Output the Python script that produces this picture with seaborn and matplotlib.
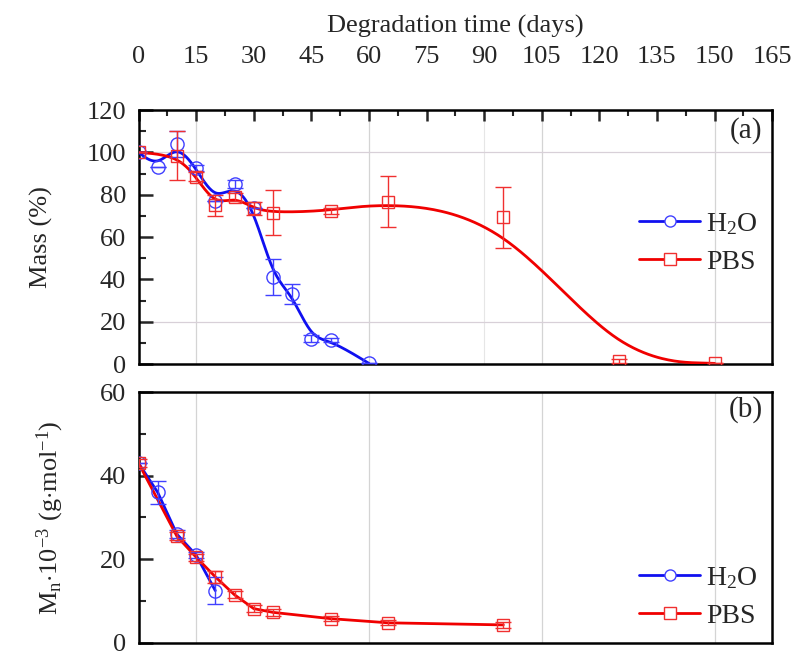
import numpy as np
import matplotlib
matplotlib.use("Agg")
import matplotlib.pyplot as plt
import seaborn as sns
from matplotlib.lines import Line2D
from matplotlib.ticker import MultipleLocator

# panel (a): mass remaining (%)
days_h2o_a = [0, 5, 10, 15, 20, 25, 30, 35, 40, 45, 50, 60]
mass_h2o = [100, 93, 104, 92.5, 77, 85, 73.5, 41, 33, 12, 11.3, 0.3]
mass_h2o_err = [0, 0, 6, 1.5, 0, 2, 0, 8.5, 4.7, 1.5, 1, 0]

days_pbs_a = [0, 10, 15, 20, 25, 30, 35, 50, 65, 95, 125, 150]
mass_pbs = [100, 98.5, 88.5, 75, 79, 73.5, 71.5, 72.3, 76.7, 69.3, 1.6, 0.3]
mass_pbs_err = [0, 11.8, 2, 5, 2, 3, 10.6, 1.5, 12, 14.5, 1, 0]

# panel (b): Mn * 10^-3 (g/mol)
days_h2o_b = [0, 5, 10, 15, 20]
mn_h2o = [43, 36, 26, 21, 12.5]
mn_h2o_err = [0, 2.7, 1, 0.8, 3.2]

days_pbs_b = [0, 10, 15, 20, 25, 30, 35, 50, 65, 95]
mn_pbs = [43, 25.5, 20.5, 15.8, 11.5, 8.2, 7.3, 5.8, 4.8, 4.3]
mn_pbs_err = [1, 1, 0.8, 1.5, 0.8, 0.8, 0.8, 0.6, 0.6, 0.8]

BLUE = "#1010f0"
RED = "#f00000"


def bspline(x, y, n=40):
    # Origin-style B-spline connection: data points act as control points
    P = np.column_stack([x, y]).astype(float)
    P = np.vstack([P[:1], P[:1], P, P[-1:], P[-1:]])
    t = np.linspace(0, 1, n, endpoint=False)[:, None]
    b0 = (1 - t) ** 3 / 6
    b1 = (3 * t ** 3 - 6 * t ** 2 + 4) / 6
    b2 = (-3 * t ** 3 + 3 * t ** 2 + 3 * t + 1) / 6
    b3 = t ** 3 / 6
    segs = [b0 * P[i] + b1 * P[i + 1] + b2 * P[i + 2] + b3 * P[i + 3]
            for i in range(len(P) - 3)]
    segs.append(P[-1:])
    return np.vstack(segs)


sns.set_style("white")
plt.rcParams["font.family"] = ["Liberation Serif", "DejaVu Serif"]
plt.rcParams["mathtext.fontset"] = "custom"
plt.rcParams["mathtext.rm"] = "Liberation Serif"
plt.rcParams["mathtext.it"] = "Liberation Serif"

FS = 19

fig = plt.figure(figsize=(7.96, 6.56), dpi=100)
L, R = 0.174, 0.970
ax1 = fig.add_axes([L, 0.4451, R - L, 0.8323 - 0.4451])
ax2 = fig.add_axes([L, 0.020, R - L, 0.4024 - 0.020])

grid_c = "#d4d4d4"
for ax in (ax1, ax2):
    for gx in (15, 60, 105, 150):
        ax.axvline(gx, color=grid_c, lw=0.9, zorder=0)
ax1.axvline(90, color="#e6e6e6", lw=0.8, zorder=0)
for gy in (20, 100):
    ax1.axhline(gy, color="#d8d0d8", lw=0.9, zorder=0)

# --- panel (a)
cb = bspline(days_h2o_a, mass_h2o)
cr = bspline(days_pbs_a, mass_pbs)
sns.lineplot(x=cb[:, 0], y=cb[:, 1], sort=False, estimator=None, color=BLUE, lw=2.0, ax=ax1, zorder=3)
sns.lineplot(x=cr[:, 0], y=cr[:, 1], sort=False, estimator=None, color=RED, lw=2.0, ax=ax1, zorder=4)
ax1.errorbar(days_h2o_a, mass_h2o, yerr=mass_h2o_err, fmt="o", ms=9.5, mfc="none", mec="#4040ff",
             mew=1.0, ecolor="#4040ff", elinewidth=1.0, capsize=6, capthick=1.0, zorder=5)
ax1.errorbar(days_pbs_a, mass_pbs, yerr=mass_pbs_err, fmt="s", ms=8.5, mfc="none", mec="#f03030",
             mew=1.0, ecolor="#f03030", elinewidth=1.0, capsize=6, capthick=1.0, zorder=6)

# --- panel (b)
sns.lineplot(x=days_h2o_b, y=mn_h2o, color=BLUE, lw=2.0, ax=ax2, zorder=3)
sns.lineplot(x=days_pbs_b, y=mn_pbs, color=RED, lw=2.0, ax=ax2, zorder=4)
ax2.errorbar(days_h2o_b, mn_h2o, yerr=mn_h2o_err, fmt="o", ms=9.5, mfc="none", mec="#4040ff",
             mew=1.0, ecolor="#4040ff", elinewidth=1.0, capsize=6, capthick=1.0, zorder=5)
ax2.errorbar(days_pbs_b, mn_pbs, yerr=mn_pbs_err, fmt="s", ms=8.5, mfc="none", mec="#f03030",
             mew=1.0, ecolor="#f03030", elinewidth=1.0, capsize=6, capthick=1.0, zorder=6)

# axes styling
for ax in (ax1, ax2):
    ax.set_xlim(0, 165)
    for s in ax.spines.values():
        s.set_linewidth(1.8)
        s.set_color("black")
        s.set_visible(True)
    ax.tick_params(axis="y", which="major", direction="in", length=10, width=1.8, labelsize=FS, pad=9,
                   left=True, right=False)
    ax.tick_params(axis="y", which="minor", direction="in", length=5, width=1.5, left=True, right=False)

ax1.set_ylim(0, 120)
ax1.yaxis.set_major_locator(MultipleLocator(20))
ax1.yaxis.set_minor_locator(MultipleLocator(10))
ax1.xaxis.set_major_locator(MultipleLocator(15))
ax1.xaxis.set_minor_locator(MultipleLocator(7.5))
ax1.xaxis.tick_top()
ax1.xaxis.set_label_position("top")
ax1.tick_params(axis="x", which="major", direction="in", length=8, width=1.8, labelsize=FS, pad=30,
                top=True, bottom=False)
ax1.tick_params(axis="x", which="minor", direction="in", length=4, width=1.5, top=True, bottom=False)
ax1.set_xlabel("Degradation time (days)", fontsize=FS, labelpad=10)
ax1.set_ylabel("Mass (%)", fontsize=FS, labelpad=24)

ax2.set_ylim(0, 60)
ax2.yaxis.set_major_locator(MultipleLocator(20))
ax2.yaxis.set_minor_locator(MultipleLocator(10))
ax2.set_xticks([])
ax2.set_xlabel("")
ax2.set_ylabel(r"M$_\mathregular{n}$$\cdot$10$^\mathregular{-3}$ (g$\cdot$mol$^\mathregular{-1}$)",
               fontsize=FS, labelpad=24)

ax1.text(0.985, 0.92, "(a)", transform=ax1.transAxes, ha="right", va="center", fontsize=21)
ax2.text(0.985, 0.93, "(b)", transform=ax2.transAxes, ha="right", va="center", fontsize=21)

handles = [
    Line2D([], [], color=BLUE, lw=2.0, marker="o", ms=8, mfc="white", mec="#4040ff", mew=1.0),
    Line2D([], [], color=RED, lw=2.0, marker="s", ms=8, mfc="white", mec="#f03030", mew=1.0),
]
labels = [r"H$_\mathregular{2}$O", "PBS"]
for ax, yc in ((ax1, 0.476), (ax2, 0.182)):
    ax.legend(handles, labels, loc="center left", bbox_to_anchor=(0.79, yc), frameon=False,
              fontsize=20, handlelength=2.2, handletextpad=0.2, labelspacing=0.45,
              borderpad=0, borderaxespad=0)

fig.savefig("out.png", dpi=100, facecolor="white")
